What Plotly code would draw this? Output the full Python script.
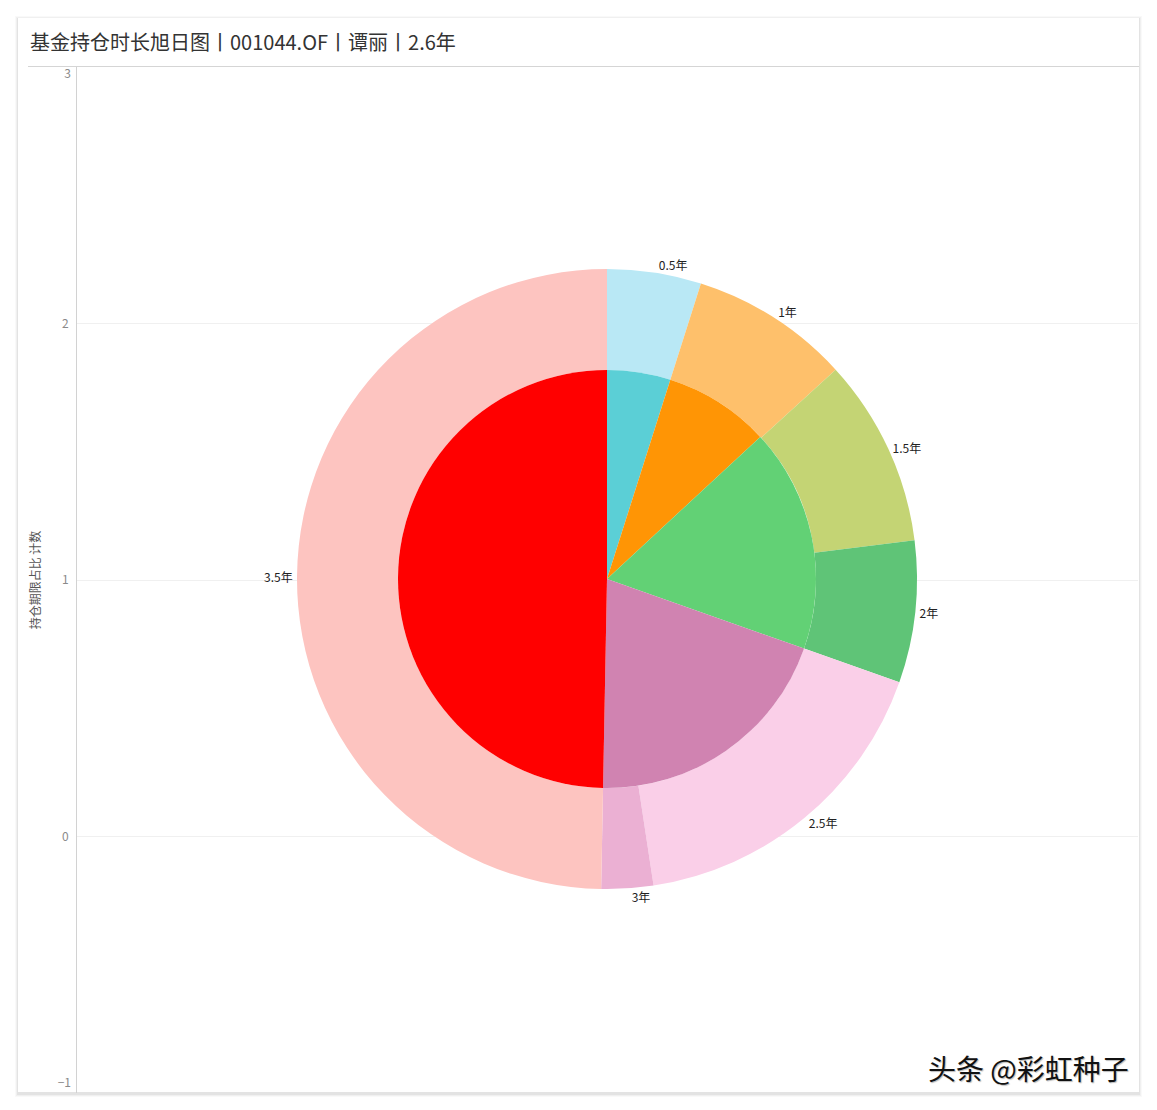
import plotly.graph_objects as go

# The page body has an 8px default margin; size the figure so the page is exactly 1157x1110
PAGE_W, PAGE_H = 1157, 1110
OFF = 8
W, H = PAGE_W - 2 * OFF, PAGE_H - 2 * OFF
FONT = "Noto Sans CJK SC, Noto Sans, sans-serif"

# ---- data ----
outer_labels = ["0.5年", "1年", "1.5年", "2年", "2.5年", "3年", "3.5年"]
outer_values = [4.9, 8.3, 9.8, 7.4, 17.2, 2.7, 49.7]
outer_colors = ["#B9E8F5", "#FEC06B", "#C4D474", "#5FC477", "#FACFE8", "#EBB0D3", "#FDC4C0"]

inner_labels = ["0.5年", "1年", "1.5-2年", "2.5-3年", "3.5年"]
inner_values = [4.9, 8.2, 17.3, 19.9, 49.7]
inner_colors = ["#5BCFD6", "#FF9505", "#62D175", "#D083B1", "#FF0000"]

y_range = [-1, 3]
y_ticks_mid = [0, 1, 2]
y_tick_top = [3]
y_tick_bottom = [-1]
title_text = "基金持仓时长旭日图丨001044.OF丨谭丽丨2.6年"
y_title = "持仓期限占比 计数"
watermark = "头条 @彩虹种子"

# ---- layout helpers (page pixel -> paper) ----
def fx(px):
    return (px - OFF) / W

def fy(py):
    return 1 - (py - OFF) / H

cx, cy = 607, 579
R_out, R_in = 310, 209

fig = go.Figure()

# dummy cartesian traces so the y axes are drawn
fig.add_trace(go.Scatter(x=[], y=[], showlegend=False, hoverinfo="skip"))
fig.add_trace(go.Scatter(x=[], y=[], yaxis="y2", showlegend=False, hoverinfo="skip"))
fig.add_trace(go.Scatter(x=[], y=[], yaxis="y3", showlegend=False, hoverinfo="skip"))

fig.add_trace(go.Pie(
    labels=outer_labels, values=outer_values,
    marker=dict(colors=outer_colors, line=dict(width=0)),
    hole=R_in / R_out,
    sort=False, direction="clockwise", rotation=0,
    textposition="outside", texttemplate="%{label}",
    outsidetextfont=dict(family=FONT, size=12, color="#222222"),
    domain=dict(x=[fx(cx - R_out), fx(cx + R_out)], y=[fy(cy + R_out), fy(cy - R_out)]),
    showlegend=False, hoverinfo="label+value", automargin=False,
))

fig.add_trace(go.Pie(
    labels=inner_labels, values=inner_values,
    marker=dict(colors=inner_colors, line=dict(width=0)),
    sort=False, direction="clockwise", rotation=0,
    textinfo="none",
    domain=dict(x=[fx(cx - R_in), fx(cx + R_in)], y=[fy(cy + R_in), fy(cy - R_in)]),
    showlegend=False, hoverinfo="label+value", automargin=False,
))

shapes = []
# card shadow
for i, a in enumerate([0.025, 0.035, 0.05]):
    d = 3 - i
    shapes.append(dict(type="rect", xref="paper", yref="paper", layer="below",
                       x0=fx(18 - d), x1=fx(1139 + d), y0=fy(1092 + d + 2), y1=fy(18 - d + 1),
                       fillcolor=f"rgba(0,0,0,{a})", line=dict(width=0)))
shapes.append(dict(type="rect", xref="paper", yref="paper", layer="below",
                   x0=fx(18), x1=fx(1139), y0=fy(1092), y1=fy(18),
                   fillcolor="white", line=dict(width=0)))
# title separator
shapes.append(dict(type="line", xref="paper", yref="paper", layer="below",
                   x0=fx(28), x1=fx(1139), y0=fy(66.5), y1=fy(66.5),
                   line=dict(color="#d5d5d5", width=1)))
# dashed zero line
shapes.append(dict(type="line", xref="paper", yref="y", layer="below",
                   x0=fx(77), x1=fx(1138), y0=0, y1=0,
                   line=dict(color="#b8b8b8", width=1, dash="dot")))

tickfont = dict(family=FONT, size=12, color="#8a8a8a")
ydomain = [fy(1093), fy(67)]

fig.update_layout(
    width=W, height=H,
    margin=dict(l=0, r=0, t=0, b=0, pad=0, autoexpand=False),
    paper_bgcolor="white", plot_bgcolor="rgba(0,0,0,0)",
    showlegend=False,
    font=dict(family=FONT),
    title=dict(text=title_text, x=fx(30), xanchor="left", xref="paper",
               y=fy(43), yanchor="middle", yref="paper", automargin=False,
               font=dict(family=FONT, size=20, color="#333333")),
    xaxis=dict(domain=[fx(77), fx(1138)], range=[0, 1], visible=False, fixedrange=True,
               automargin=False),
    yaxis=dict(domain=ydomain, range=y_range, tickvals=y_ticks_mid,
               showgrid=True, gridcolor="#f0f0f0", gridwidth=1, zeroline=False,
               showline=True, linecolor="#d2d2d2", linewidth=1, automargin=False,
               ticks="", tickfont=tickfont, ticklabelstandoff=5,
               title=dict(text=y_title, standoff=18,
                          font=dict(family=FONT, size=12, color="#555555")),
               fixedrange=True),
    yaxis2=dict(overlaying="y", range=y_range, tickvals=y_tick_top, showgrid=False,
                zeroline=False, showline=False, ticks="", tickfont=tickfont,
                ticklabelshift=7, ticklabelstandoff=5, automargin=False, fixedrange=True),
    yaxis3=dict(overlaying="y", range=y_range, tickvals=y_tick_bottom, showgrid=False,
                zeroline=False, showline=False, ticks="", tickfont=tickfont,
                ticklabelshift=-10, ticklabelstandoff=5, automargin=False, fixedrange=True),
    shapes=shapes,
    annotations=[dict(text=watermark, xref="paper", yref="paper",
                      x=fx(1131), y=fy(1068), xanchor="right", yanchor="middle",
                      showarrow=False,
                      font=dict(family=FONT, size=28, color="#111111",
                                shadow="1px 1px 1px #bbbbbb"))],
)

fig.write_html("out.html")
